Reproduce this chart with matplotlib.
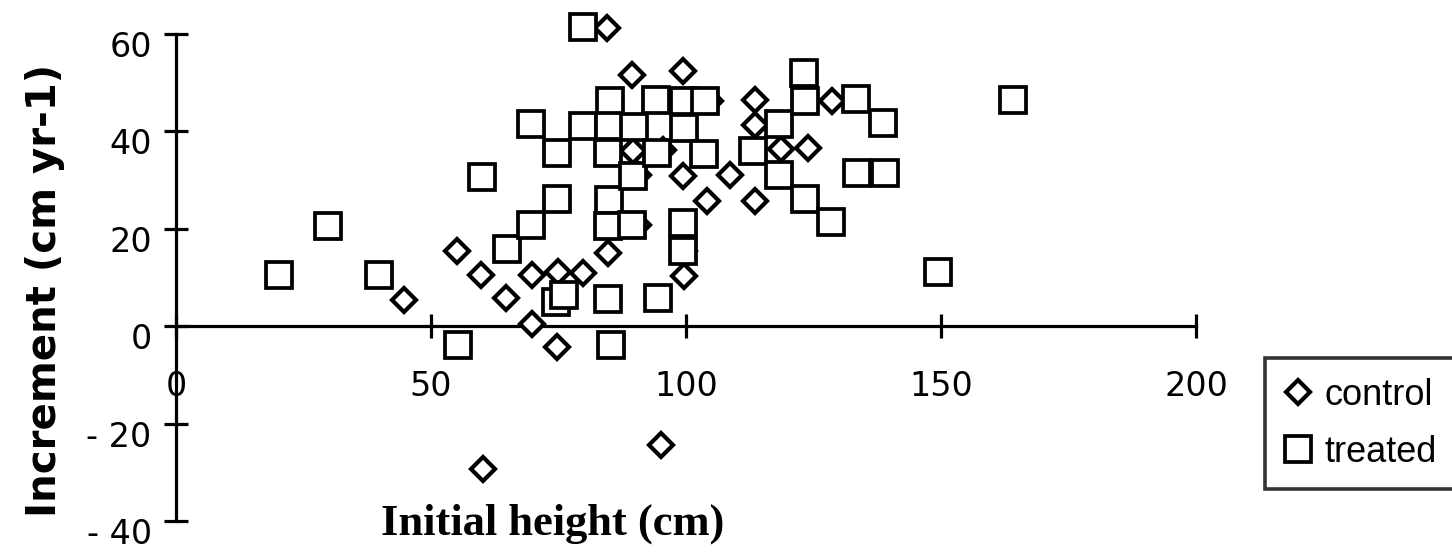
import matplotlib
matplotlib.use("Agg")
import matplotlib.pyplot as plt
from matplotlib.lines import Line2D
from matplotlib.font_manager import FontProperties
import matplotlib.transforms as mtransforms

# ---- data ----
control_x = [44.8, 55.0, 59.8, 64.8, 69.8, 69.8, 74.9, 74.8, 79.9, 84.6, 84.7,
             89.5, 89.7, 90.6, 90.5, 95.4, 99.4, 99.5, 99.6, 99.6, 104.8, 104.1,
             108.7, 113.6, 113.5, 113.5, 118.6, 123.9, 128.7, 60.2, 95.0]
control_y = [5.3, 15.4, 10.5, 5.7, 10.5, 0.5, 11.2, -4.3, 11.0, 61.3, 15.1,
             51.6, 36.0, 31.0, 20.8, 36.1, 52.3, 30.9, 15.5, 10.4, 46.3, 25.7,
             31.0, 46.5, 41.3, 25.8, 36.4, 36.5, 46.3, -29.3, -24.3]

treated_x = [20.2, 29.9, 39.9, 55.3, 60.0, 64.9, 69.7, 69.6, 74.8, 74.7, 74.6,
             76.0, 79.9, 79.8, 85.0, 84.9, 84.8, 84.9, 84.8, 84.8, 85.3, 89.8,
             89.7, 89.5, 94.2, 94.4, 94.6, 99.7, 99.6, 99.5, 99.5, 103.8, 103.6,
             113.1, 118.2, 118.3, 123.1, 123.4, 123.3, 128.5, 133.4, 138.6,
             133.6, 139.0, 149.4, 164.2]
treated_y = [10.6, 20.5, 10.6, -3.8, 30.6, 15.8, 20.8, 41.6, 35.6, 26.1, 5.0,
             6.4, 61.4, 41.2, 46.3, 41.1, 35.6, 26.0, 20.6, 5.6, -3.8, 41.0,
             30.9, 20.8, 46.4, 35.5, 5.7, 46.3, 40.8, 21.1, 15.5, 46.3, 35.4,
             35.9, 41.6, 31.1, 51.9, 46.2, 26.2, 21.3, 46.7, 41.7,
             31.5, 31.4, 11.2, 46.5]

x_ticks = [0, 50, 100, 150, 200]
x_tick_labels = ["0", "50", "100", "150", "200"]
y_ticks = [-40, -20, 0, 20, 40, 60]
y_tick_labels = ["- 40", "- 20", "0", "20", "40", "60"]

W, H = 1452, 558
fig = plt.figure(figsize=(W / 100, H / 100), dpi=100)
fig.patch.set_facecolor("white")

ax = fig.add_axes([176 / W, (H - 521) / H, 1020 / W, (521 - 34) / H])
ax.set_xlim(0, 200)
ax.set_ylim(-40, 60)
ax.patch.set_alpha(0)

lw = 2.3
ax.plot(control_x, control_y, linestyle="none", marker="D", markersize=12.5,
        markerfacecolor="white", markeredgecolor="black", markeredgewidth=3.0,
        clip_on=False, zorder=3)
ax.plot(treated_x, treated_y, linestyle="none", marker="s", markersize=19,
        markerfacecolor="white", markeredgecolor="black", markeredgewidth=2.7,
        clip_on=False, zorder=4)

for s in ["top", "right"]:
    ax.spines[s].set_visible(False)
ax.spines["bottom"].set_position(("data", 0))
ax.spines["left"].set_linewidth(lw)
ax.spines["bottom"].set_linewidth(lw)
ax.spines["left"].set_zorder(2)
ax.spines["bottom"].set_zorder(2)

ax.set_xticks(x_ticks)
ax.set_xticklabels(x_tick_labels)
ax.set_yticks(y_ticks)
ax.set_yticklabels(y_tick_labels)

ax.tick_params(axis="both", direction="inout", length=17, width=lw,
               colors="black", labelsize=24)
ax.tick_params(axis="x", pad=23)
ax.tick_params(axis="y", pad=9)
for lab in ax.get_xticklabels() + ax.get_yticklabels():
    lab.set_fontfamily("DejaVu Sans")

off = mtransforms.ScaledTranslation(0, -10 / 100, fig.dpi_scale_trans)
for lab in ax.get_yticklabels():
    lab.set_transform(lab.get_transform() + off)

fig.text(45 / W, 1 - 290 / H, "Increment (cm yr-1)", rotation=90,
         ha="center", va="center", fontsize=29, fontweight="bold",
         family="DejaVu Sans")
fig.text(553 / W, 1 - 524 / H, "Initial height (cm)", ha="center",
         va="center", fontsize=32, fontweight="bold", family="Liberation Serif")

handles = [
    Line2D([], [], linestyle="none", marker="D", markersize=12,
           markerfacecolor="white", markeredgecolor="black", markeredgewidth=3.0),
    Line2D([], [], linestyle="none", marker="s", markersize=19,
           markerfacecolor="white", markeredgecolor="black", markeredgewidth=2.7),
]
leg = fig.legend(handles, ["control", "treated"],
                 loc="upper left", bbox_to_anchor=(1265 / W, 1 - 358 / H),
                 prop=FontProperties(family="Liberation Sans", size=26),
                 frameon=True, fancybox=False, handlelength=0.75,
                 handletextpad=0.35, borderpad=0.55, labelspacing=0.6,
                 borderaxespad=0)
leg.get_frame().set_edgecolor("black")
leg.get_frame().set_linewidth(2.6)

fig.savefig("out.png", dpi=100, facecolor="white")
